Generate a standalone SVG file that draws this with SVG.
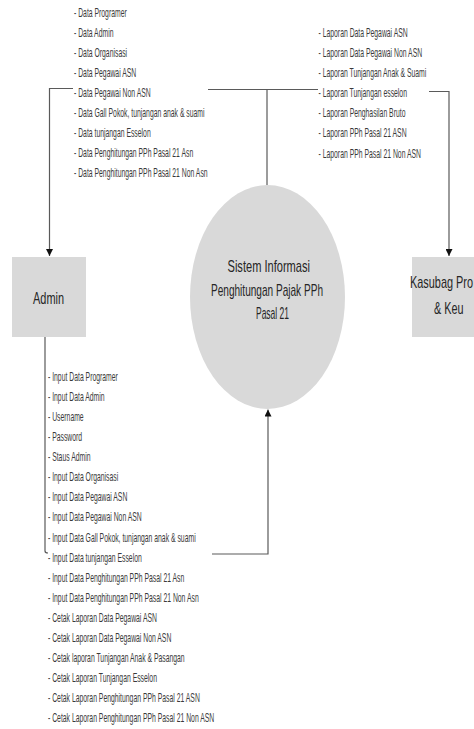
<svg xmlns="http://www.w3.org/2000/svg" width="474" height="729" viewBox="0 0 474 729">
  <style>
    .bg { fill: #ffffff; }
    .entity { fill: #d9d9d9; stroke: none; }
    .process { fill: #d9d9d9; stroke: none; }
    .title { font-family: "Liberation Sans", Arial, sans-serif; font-size: 17px; fill: #262626; }
    .flow { font-family: "Liberation Sans", Arial, sans-serif; font-size: 12px; fill: #3a3a3a; }
    .wire { fill: none; stroke: #5a5a5a; stroke-width: 1.2; }
  </style>
  <defs>
    <marker id="arrow" markerWidth="7" markerHeight="7" refX="7" refY="3.5" orient="auto" markerUnits="userSpaceOnUse">
      <path d="M0,0 L7,3.5 L0,7 z" fill="#111111"/>
    </marker>
  </defs>

  <rect class="bg" x="0" y="0" width="474" height="729"/>

  <!-- data flows between entities and the process -->
  <g id="connectors">
    <path class="wire" d="M73,88.5 H49.5 V256" marker-end="url(#arrow)"/>
    <path class="wire" d="M208,89.5 H318"/>
    <path class="wire" d="M267,89.5 V185"/>
    <path class="wire" d="M429,91.5 H449 V256" marker-end="url(#arrow)"/>
    <path class="wire" d="M45,337 V551 Q45,553 48,553"/>
    <path class="wire" d="M212,554 H268 V409.5" marker-end="url(#arrow)"/>
  </g>

  <!-- external entity: Admin -->
  <g id="admin">
    <rect class="entity" x="12" y="257" width="74" height="80"/>
    <text class="title" x="33" y="304" textLength="31" lengthAdjust="spacingAndGlyphs">Admin</text>
  </g>

  <!-- process: the tax calculation system -->
  <g id="sistem">
    <ellipse class="process" cx="267.5" cy="297" rx="77.5" ry="112"/>
    <text class="title" x="227.5" y="272" textLength="82.5" lengthAdjust="spacingAndGlyphs">Sistem Informasi</text>
    <text class="title" x="211" y="295.5" textLength="112" lengthAdjust="spacingAndGlyphs">Penghitungan Pajak PPh</text>
    <text class="title" x="256" y="318.5" textLength="33" lengthAdjust="spacingAndGlyphs">Pasal 21</text>
  </g>

  <!-- external entity: Kasubag (runs to the right edge) -->
  <g id="kasubag">
    <rect class="entity" x="412" y="257" width="62" height="80"/>
    <text class="title" x="410" y="288" textLength="63" lengthAdjust="spacingAndGlyphs">Kasubag Pro</text>
    <text class="title" x="434" y="314" textLength="29.5" lengthAdjust="spacingAndGlyphs">&amp; Keu</text>
  </g>

  <!-- flow: process to Admin -->
  <g id="flow-data" transform="translate(74,0) scale(0.57,1)">
    <text class="flow" x="0" y="17.5">- Data Programer</text>
    <text class="flow" x="0" y="37.5">- Data Admin</text>
    <text class="flow" x="0" y="57.5">- Data Organisasi</text>
    <text class="flow" x="0" y="77.5">- Data Pegawai ASN</text>
    <text class="flow" x="0" y="97.5">- Data Pegawai Non ASN</text>
    <text class="flow" x="0" y="117.5">- Data Gall Pokok, tunjangan anak &amp; suami</text>
    <text class="flow" x="0" y="137.5">- Data tunjangan Esselon</text>
    <text class="flow" x="0" y="157.5">- Data Penghitungan PPh Pasal 21 Asn</text>
    <text class="flow" x="0" y="177.5">- Data Penghitungan PPh Pasal 21 Non Asn</text>
  </g>

  <!-- flow: process to Kasubag -->
  <g id="flow-laporan" transform="translate(318.5,0) scale(0.57,1)">
    <text class="flow" x="0" y="37">- Laporan Data Pegawai ASN</text>
    <text class="flow" x="0" y="57">- Laporan Data Pegawai Non ASN</text>
    <text class="flow" x="0" y="77">- Laporan Tunjangan Anak &amp; Suami</text>
    <text class="flow" x="0" y="97.3">- Laporan Tunjangan esselon</text>
    <text class="flow" x="0" y="117.4">- Laporan Penghasilan Bruto</text>
    <text class="flow" x="0" y="137.5">- Laporan PPh Pasal 21 ASN</text>
    <text class="flow" x="0" y="157.6">- Laporan PPh Pasal 21 Non ASN</text>
  </g>

  <!-- flow: Admin to process -->
  <g id="flow-input" transform="translate(48,0) scale(0.57,1)">
    <text class="flow" x="0" y="380.7">- Input Data Programer</text>
    <text class="flow" x="0" y="400.8">- Input Data Admin</text>
    <text class="flow" x="0" y="420.9">- Username</text>
    <text class="flow" x="0" y="441.0">- Password</text>
    <text class="flow" x="0" y="461.1">- Staus Admin</text>
    <text class="flow" x="0" y="481.3">- Input Data Organisasi</text>
    <text class="flow" x="0" y="501.4">- Input Data Pegawai ASN</text>
    <text class="flow" x="0" y="521.5">- Input Data Pegawai Non ASN</text>
    <text class="flow" x="0" y="541.6">- Input Data Gall Pokok, tunjangan anak &amp; suami</text>
    <text class="flow" x="0" y="561.7">- Input Data tunjangan Esselon</text>
    <text class="flow" x="0" y="581.8">- Input Data Penghitungan PPh Pasal 21 Asn</text>
    <text class="flow" x="0" y="601.9">- Input Data Penghitungan PPh Pasal 21 Non Asn</text>
    <text class="flow" x="0" y="622.0">- Cetak Laporan Data Pegawai ASN</text>
    <text class="flow" x="0" y="642.1">- Cetak Laporan Data Pegawai Non ASN</text>
    <text class="flow" x="0" y="662.2">- Cetak laporan Tunjangan Anak &amp; Pasangan</text>
    <text class="flow" x="0" y="682.3">- Cetak Laporan Tunjangan Esselon</text>
    <text class="flow" x="0" y="702.4">- Cetak Laporan Penghitungan PPh Pasal 21 ASN</text>
    <text class="flow" x="0" y="722.5">- Cetak Laporan Penghitungan PPh Pasal 21 Non ASN</text>
  </g>
</svg>
